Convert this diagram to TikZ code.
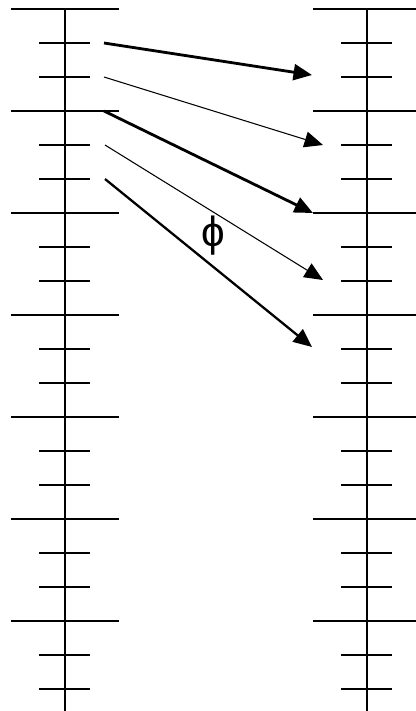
\documentclass[tikz,border=0pt]{standalone}
\usepackage{fontspec}
\setmainfont{Liberation Sans}
\usetikzlibrary{arrows.meta}
\tikzset{
  axis/.style={line width=1.1pt},
  tickmark/.style={line width=1.1pt},
  ray/.style={-{Triangle[length=0.37cm,width=0.32cm]}},
}
\begin{document}
\begin{tikzpicture}[x=0.02cm,y=-0.02cm]
            \useasboundingbox (0,0) rectangle (416,711);
            % Ejes verticales
            \draw[axis] (65,9) -- (65,711);
            \draw[axis] (367,9) -- (367,711);
            % Marcas largas
            \foreach \y in {9,111,213,315,417,519,621} {
                \draw[tickmark] (11,\y) -- (119,\y);
                \draw[tickmark] (313,\y) -- (416,\y);
            }
            % Marcas cortas
            \foreach \y in {43,77,145,179,247,281,349,383,451,485,553,587,655,689} {
                \draw[tickmark] (39,\y) -- (90,\y);
                \draw[tickmark] (341,\y) -- (392,\y);
            }
            % Puntos de salida y llegada
            \coordinate (s1) at (104,43);
            \coordinate (s2) at (104,77);
            \coordinate (s3) at (104,111);
            \coordinate (s4) at (105,145);
            \coordinate (s5) at (105,179);
            \coordinate (e1) at (312,75);
            \coordinate (e2) at (323,145);
            \coordinate (e3) at (313,213);
            \coordinate (e4) at (323,280);
            \coordinate (e5) at (312,347);
            % Flechas
            \draw[ray, line width=1.6pt] (s1) -- (e1);
            \draw[ray, line width=0.6pt] (s2) -- (e2);
            \draw[ray, line width=1.6pt] (s3) -- (e3);
            \draw[ray, line width=0.6pt] (s4) -- (e4);
            \draw[ray, line width=1.3pt] (s5) -- (e5);
            % Etiqueta
            \node[font=\fontsize{24}{28}\selectfont] (phi) at (213,236) {ϕ};
        \end{tikzpicture}
\end{document}
